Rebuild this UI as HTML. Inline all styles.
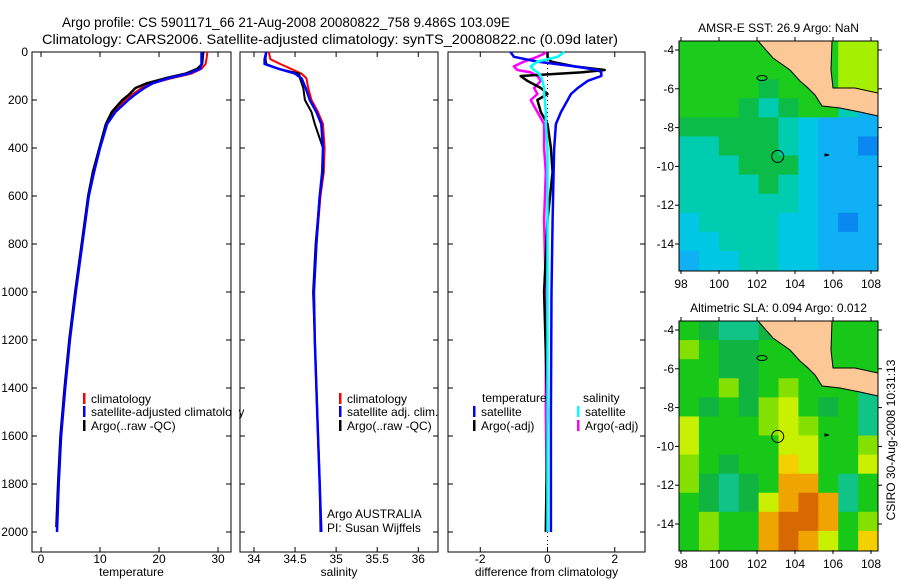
<!DOCTYPE html>
<html><head><meta charset="utf-8"><style>
body{margin:0;background:#fff;}
svg{display:block;font-family:"Liberation Sans",sans-serif;}
</style></head><body>
<svg id="fig" width="900" height="580" viewBox="0 0 900 580" xmlns="http://www.w3.org/2000/svg">
<rect width="900" height="580" fill="#fff"/>
<text x="62" y="27" font-size="14" textLength="448" lengthAdjust="spacingAndGlyphs">Argo profile: CS 5901171_66 21-Aug-2008 20080822_758 9.486S 103.09E</text>
<text x="42" y="44" font-size="14" textLength="576" lengthAdjust="spacingAndGlyphs">Climatology: CARS2006. Satellite-adjusted climatology: synTS_20080822.nc (0.09d later)</text>
<g id="maps"></g>
<g id="panels"></g>
<text transform="translate(895,440) rotate(-90)" font-size="12" text-anchor="middle">CSIRO 30-Aug-2008 10:31:13</text>
</svg>
<script>
// ---- profile data ----
const tDepth=[0,20,50,70,90,110,130,150,180,200,250,300,400,500,600,800,1000,1200,1400,1600,1800,2000];
const tClim=[28.2,28.1,27.9,27.2,25.5,22,19,17,15.3,14.3,12.3,11,9.9,8.9,8.0,7.0,5.9,4.9,4.1,3.4,3.0,2.7];
const tSat=[27.2,27.2,27.2,27,25,21.5,19,17.5,15.8,14.8,12.6,11.2,10,9,8.1,7.0,5.9,4.9,4.1,3.4,3.0,2.7];
const tArgo=[27.5,27.4,27.3,26.5,24.5,21,18,16,14.8,13.8,12,11,9.9,8.8,8,6.9,5.8,4.8,4.0,3.3,2.9,2.6];
const sDepth=[0,30,50,70,90,110,150,200,250,300,400,500,600,800,1000,1200,1500,1800,2000];
const sClim=[34.18,34.2,34.32,34.45,34.58,34.64,34.66,34.7,34.78,34.84,34.86,34.85,34.81,34.76,34.73,34.74,34.77,34.8,34.82];
const sSat=[34.15,34.13,34.13,34.3,34.5,34.58,34.63,34.68,34.76,34.82,34.84,34.83,34.8,34.76,34.73,34.74,34.77,34.8,34.82];
const sArgo=[34.15,34.14,34.15,34.3,34.55,34.56,34.6,34.62,34.7,34.74,34.84,34.84,34.8,34.75,34.72,34.74,34.77,34.8,34.81];
const dDepth=[0,20,40,60,75,85,100,120,150,175,200,250,300,400,500,700,1000,1500,2000];
const dTSat=[-1.1,-1.0,-0.3,0.8,1.5,1.6,1.6,1.2,0.9,0.7,0.6,0.4,0.25,0.2,0.18,0.15,0.12,0.1,0.1];
const dTArgo=[0,0,0.1,0.8,1.7,1.0,-0.8,-0.6,-0.2,0.0,-0.3,-0.2,0.0,0.1,0.15,0.0,-0.1,0.0,-0.05];
const dSSat=[0.5,0.3,-0.3,-0.5,-0.4,-0.3,-0.2,-0.15,-0.1,-0.1,-0.08,-0.05,-0.05,0.0,0.0,0.0,0.0,0.0,0.0];
const dSArgo=[0.0,-0.3,-0.7,-1.0,-0.9,-0.5,-0.3,-0.2,-0.4,-0.3,-0.5,-0.3,-0.1,-0.1,-0.05,-0.1,-0.05,-0.05,0.0];
const depthTicks=[0,200,400,600,800,1000,1200,1400,1600,1800,2000];
const tTicks=[0,10,20,30];
const sTicks=[34,34.5,35,35.5,36];
const dTicks=[-2,0,2];
// ---- map data (coarse colour grid rows, north to south) ----
const sstRows=["GGGGGGGGYY","GGGGGGGGYY","GGGGgGGGYY","GGGgTgGGTB","gggggTCBBB","TTgggTCBBD","TTTgggCBBB","TTTTgTCBBB","TTTTTTCBBB","CTTTTCCBDB","CCTTTCCBBB","BCCTTCCBBB"];
const slaRows=["GgTTgGGGGG","yGggGGGGGG","GGggGGGGGG","GGygGyGGGT","GgGgyYGgGT","YGGGyYyGGT","YGGGGYYGGy","yGgGGoYGGY","ygTgGOOGTG","GgTgYOROTG","GyGGORROGy","GyGGOROYGo"];
const lonTicks=[98,100,102,104,106,108];
const latTicks=[-4,-6,-8,-10,-12,-14];
const coast=[[758,41],[832,41],[831,70],[833,88],[855,88],[878,93],[878,116],[860,112],[840,108],[822,106],[815,95],[808,88],[800,81],[790,70],[773,58]];

const NS="http://www.w3.org/2000/svg";
function mk(tag,attrs,parent){const e=document.createElementNS(NS,tag);for(const k in attrs)e.setAttribute(k,attrs[k]);parent.appendChild(e);return e;}
const panelsG=document.getElementById('panels');
const yD=d=>52+d*0.24;
const Y0=52,Y1=552;

function panel(name,x0,x1,vmin,vmax,ticks,fmt,title){
  const g=mk('g',{},panelsG);
  
  
  const xs=v=>x0+(v-vmin)/(vmax-vmin)*(x1-x0);
  const fr=mk('rect',{x:x0,y:Y0,width:x1-x0,height:Y1-Y0,fill:'none',stroke:'#000','stroke-width':1},g);
  
  
  ticks.forEach(t=>{const x=xs(t);
    mk('line',{x1:x,x2:x,y1:Y0,y2:Y0+5,stroke:'#000'},g);
    mk('line',{x1:x,x2:x,y1:Y1,y2:Y1-5,stroke:'#000'},g);
    const tx=mk('text',{x:x,y:Y1+11,'font-size':12,'text-anchor':'middle'},g);
    tx.textContent=fmt(t);
    
    
  });
  depthTicks.forEach(d=>{const y=yD(d);
    mk('line',{x1:x0,x2:x0+5,y1:y,y2:y,stroke:'#000'},g);
    mk('line',{x1:x1,x2:x1-5,y1:y,y2:y,stroke:'#000'},g);
  });
  const at=mk('text',{x:(x0+x1)/2,y:576,'font-size':12,'text-anchor':'middle'},g);
  at.textContent=title;
  
  
  return {g,xs};
}
function line(p,depths,vals,color,w,name){
  const pts=depths.map((d,i)=>p.xs(vals[i]).toFixed(1)+','+yD(d).toFixed(1)).join(' ');
  const l=mk('polyline',{points:pts,fill:'none',stroke:color,'stroke-width':w,'stroke-linejoin':'round'},p.g);
  
  
}
function legend(p,x,y,color,label){
  mk('rect',{x:x,y:y-10,width:2.5,height:11,fill:color},p.g);
  const t=mk('text',{x:x+8,y:y,'font-size':12},p.g);
  t.textContent=label;
  
  
}
function txt(p,x,y,s){const t=mk('text',{x:x,y:y,'font-size':12},p.g);t.textContent=s;
  
  }

depthTicks.forEach(d=>{const t=mk('text',{x:28,y:yD(d)+4,'font-size':12,'text-anchor':'end'},panelsG);t.textContent=d;
  
  });

const p1=panel('temperature-panel',32,231,-1.53,32.2,tTicks,v=>v,'temperature');
line(p1,tDepth,tClim,'#f00',2,'temp-climatology-line');
line(p1,tDepth.slice(0,-1).concat([1980]),tArgo,'#000',2.5,'temp-argo-line');
line(p1,tDepth,tSat,'#00f',2.5,'temp-satellite-line');
legend(p1,83,403,'#f00','climatology');
legend(p1,83,416,'#00f','satellite-adjusted climatology');
legend(p1,83,430,'#000','Argo(..raw -QC)');
mk('rect',{x:232,y:390,width:7,height:30,fill:'#fff'},panelsG);

const p2=panel('salinity-panel',240,438,33.83,36.24,sTicks,v=>v,'salinity');
line(p2,sDepth,sClim,'#f00',2,'sal-climatology-line');
line(p2,sDepth,sArgo,'#000',2,'sal-argo-line');
line(p2,sDepth,sSat,'#00f',2.5,'sal-satellite-line');
legend(p2,339,403,'#f00','climatology');
legend(p2,339,416,'#00f','satellite adj. clim.');
legend(p2,339,430,'#000','Argo(..raw -QC)');
txt(p2,327,518,'Argo AUSTRALIA');
txt(p2,327,532,'PI: Susan Wijffels');

const p3=panel('difference-panel',448,645,-2.96,2.9,dTicks,v=>v,'difference from climatology');
mk('line',{x1:p3.xs(0),x2:p3.xs(0),y1:Y0,y2:Y1,stroke:'#000','stroke-dasharray':'1,3'},p3.g);
line(p3,dDepth,dSArgo,'#f0f',2.5,'diff-sal-argo-line');
line(p3,dDepth,dTArgo,'#000',2.5,'diff-temp-argo-line');
line(p3,dDepth,dTSat,'#00f',2.5,'diff-temp-satellite-line');
line(p3,dDepth,dSSat,'#0ff',2.5,'diff-sal-satellite-line');
txt(p3,482,402,'temperature');
txt(p3,583,402,'salinity');
legend(p3,473,416,'#00f','satellite');
legend(p3,473,430,'#000','Argo(-adj)');
legend(p3,577,416,'#0ff','satellite');
legend(p3,577,430,'#f0f','Argo(-adj)');

// ---- maps ----
const mapsG=document.getElementById('maps');
const sstPal={G:'#1ccc1c',g:'#0cbc48',T:'#00ccb0',C:'#00c8e4',B:'#10b0f4',D:'#0888f0',Y:'#a4f000',L:'#fcc896'};
const slaPal={G:'#18c818',g:'#10b440',T:'#10c488',Y:'#c8f000',y:'#84e000',O:'#f0a400',R:'#d86800',o:'#f4d000',L:'#18c818'};
function drawMap(name,top,rows,pal,title){
  const g=mk('g',{},mapsG);
  
  
  const x0=679,x1=878,y1=top+229;
  const lx=v=>681+(v-98)*19;
  const ly=v=>top+9+(-4-v)*19.4;
  const cw=(x1-x0)/rows[0].length, ch=(y1-top)/rows.length;
  rows.forEach((r,i)=>{for(let j=0;j<r.length;j++){
    const c=mk('rect',{x:x0+j*cw,y:top+i*ch,width:cw+0.5,height:ch+0.5,fill:pal[r[j]]},g);
    
    
  }});
  const o=top-41;
  const land=mk('polygon',{points:coast.map(p=>p[0]+','+(p[1]+o)).join(' '),fill:'#fcc896',stroke:'#000','stroke-width':1},g);
  
  
  mk('ellipse',{cx:762,cy:78+o,rx:5,ry:2.5,fill:'none',stroke:'#000'},g);
  mk('polygon',{points:`825,${154+o} 829,${155+o} 825,${156+o}`,fill:'#000',stroke:'#000'},g);
  const c=mk('circle',{cx:lx(103.09),cy:ly(-9.486),r:6,fill:'none',stroke:'#000'},g);
  
  
  mk('rect',{x:x0,y:top,width:x1-x0,height:y1-top+1,fill:'none',stroke:'#000'},g);
  lonTicks.forEach(v=>{mk('line',{x1:lx(v),x2:lx(v),y1:y1,y2:y1+4,stroke:'#000'},g);
    mk('line',{x1:lx(v),x2:lx(v),y1:top,y2:top-4,stroke:'#000'},g);
    const t=mk('text',{x:lx(v),y:y1+18,'font-size':12,'text-anchor':'middle'},g);t.textContent=v;
    
    });
  latTicks.forEach(v=>{mk('line',{x1:x0-4,x2:x0,y1:ly(v),y2:ly(v),stroke:'#000'},g);
    mk('line',{x1:x1,x2:x1+4,y1:ly(v),y2:ly(v),stroke:'#000'},g);
    const t=mk('text',{x:x0-5,y:ly(v)+4,'font-size':12,'text-anchor':'end'},g);t.textContent=v;
    
    });
  const t=mk('text',{x:(x0+x1)/2,y:top-9,'font-size':12,'text-anchor':'middle'},g);t.textContent=title;
  
  
}
drawMap('sst-map',41,sstRows,sstPal,'AMSR-E SST: 26.9 Argo: NaN');
drawMap('sla-map',321,slaRows,slaPal,'Altimetric SLA: 0.094 Argo: 0.012');
</script>
</body></html>
